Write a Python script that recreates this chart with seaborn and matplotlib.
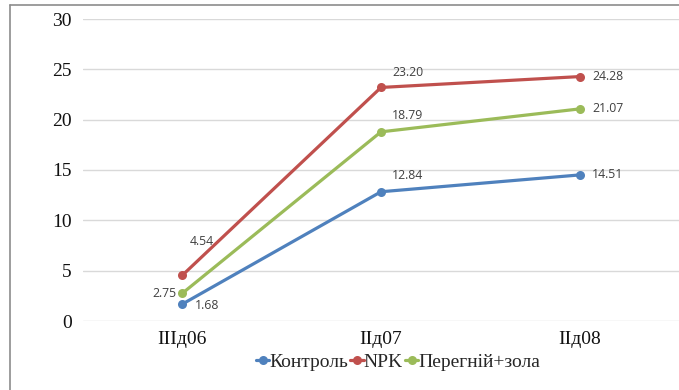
import matplotlib
matplotlib.use("Agg")
import matplotlib.pyplot as plt
from matplotlib.lines import Line2D
import seaborn as sns
import pandas as pd

categories = ["ІІІд06", "ІІд07", "ІІд08"]
series_names = ["Контроль", "NPK", "Перегній+зола"]
kontrol = [1.68, 12.84, 14.51]
npk = [4.54, 23.20, 24.28]
pereg = [2.75, 18.79, 21.07]
colors = ["#4F81BD", "#C0504D", "#9BBB59"]
yticks = [0, 5, 10, 15, 20, 25, 30]

rows = []
for name, vals in zip(series_names, [kontrol, npk, pereg]):
    for c, v in zip(categories, vals):
        rows.append({"cat": c, "val": v, "series": name})
df = pd.DataFrame(rows)

sns.set_theme(style="white")
plt.rcParams["font.family"] = ["Liberation Serif", "DejaVu Serif"]

fig = plt.figure(figsize=(6.79, 3.90), dpi=100)
ax = fig.add_axes([83/679, 1-321/390, 1-83/679, (321-19)/390])

sns.lineplot(data=df, x="cat", y="val", hue="series", palette=colors,
             marker="o", markersize=6.5, markeredgewidth=0, linewidth=2.3,
             sort=False, ax=ax, legend=True)

ax.set_xlim(-0.5, 2.5)
ax.set_ylim(0, 30)
ax.set_yticks(yticks)
ax.grid(axis="y", color="#D9D9D9", linewidth=1)
ax.set_axisbelow(True)
for s in ax.spines.values():
    s.set_visible(False)
ax.set_xlabel("")
ax.set_ylabel("")
ax.tick_params(axis="y", labelsize=14, pad=8, length=0, colors="#111111")
ax.tick_params(axis="x", labelsize=14, pad=7, length=0, colors="#111111")

lab_kw = dict(fontsize=8.8, color="#404040", family=["Open Sans", "DejaVu Sans"])
# data labels (offsets in points)
offsets = {
    "Контроль": [(9, -1, "left"), (8, 12, "left"), (9, 0, "left")],
    "NPK": [(5, 24, "left"), (8, 11, "left"), (9, 0, "left")],
    "Перегній+зола": [(-4, 0, "right"), (8, 12, "left"), (9, 0, "left")],
}
for name, vals in zip(series_names, [kontrol, npk, pereg]):
    for i, v in enumerate(vals):
        dx, dy, ha = offsets[name][i]
        ax.annotate(f"{v:.2f}", (i, v), xytext=(dx, dy), textcoords="offset points",
                    ha=ha, va="center", **lab_kw)

new_handles = [Line2D([0], [0], color=c, marker="o", markersize=6.5,
                      markeredgewidth=0, linewidth=2.3) for c in colors]
ax.legend(new_handles, series_names, loc="center", bbox_to_anchor=(398/679, 1-362/390),
          bbox_transform=fig.transFigure, ncol=3, frameon=False, fontsize=14,
          handlelength=0.7, handletextpad=0.0, columnspacing=0.1, borderpad=0)

# figure border
fig.add_artist(Line2D([10/679, 10/679], [0, 1-5/390], color="#8c8c8c", linewidth=1.2,
                      transform=fig.transFigure))
fig.add_artist(Line2D([10/679, 1], [1-5/390, 1-5/390], color="#8c8c8c", linewidth=1.2,
                      transform=fig.transFigure))

fig.savefig("out.png", dpi=100)
